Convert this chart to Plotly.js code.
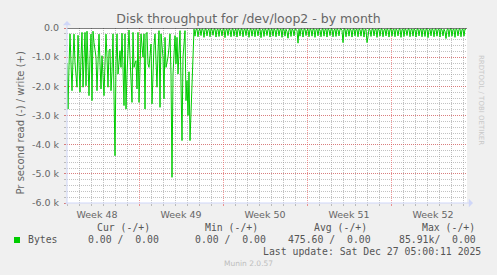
<!DOCTYPE html>
<html><head><meta charset="utf-8">
<script src="https://cdn.plot.ly/plotly-3.0.1.min.js"></script>
<style>html,body{margin:0;padding:0;background:#f0f0f0;}</style>
</head><body><div id="chart" style="width:497px;height:275px;"></div>
<script>
// ---------- data ----------
const startYear = 2025, startMonth = 10, startDay = 24;   // 2025-11-24 00:00 UTC
const stepHours = 2;
// read throughput (negative = read), thousands of bytes per second, one value per 2 h
const readK = [
-1.2,-2.78,-1.3,-0.2,-1.2,-2.15,-1.1,-0.21,-1.2,-1.6,-2.03,-0.25,-1.3,-2.2,-1.0,-0.15,-2.03,-1.0,-0.15,-1.98,
-0.11,-1.2,-2.32,-1.0,-0.21,-2.49,-0.11,-0.5,-0.89,-1.0,-2.15,-1.0,-0.21,-1.2,-2.09,-0.95,-1.5,-2.32,-1.2,-0.21,
-1.0,-2.03,-0.78,-0.72,-2.15,-1.5,-0.2,-1.8,-4.38,-1.2,-0.2,-1.58,-1.0,-0.78,-1.35,-0.18,-1.4,-2.66,-0.2,-2.78,
-1.58,-0.9,-0.07,-1.0,-1.8,-2.55,-0.15,-1.35,-1.2,-1.12,-2.09,-0.15,-2.55,-1.0,-0.2,-0.6,-1.0,-0.2,-2.78,-0.2,
-0.15,-1.23,-1.35,-0.95,-0.55,-2.6,-1.0,-0.6,-0.2,-1.58,-2.03,-0.8,-0.09,-2.72,-0.2,-0.6,-1.0,-2.43,-0.32,-1.35,
-1.2,-1.0,-0.66,-0.2,-1.6,-5.12,-1.58,-0.8,-0.26,-1.23,-0.32,-1.58,-0.7,-0.09,-1.92,-3.86,-1.0,-0.5,-0.09,-2.49,
-1.8,-3.0,-1.5,-3.86,-2.72,-2.0,-0.5,
-0.04,-0.28,-0.05,-0.03,-0.3,-0.06,-0.04,-0.26,-0.03,-0.05,-0.32,-0.04,-0.03,-0.27,-0.06,-0.04,-0.3,-0.03,-0.05,-0.25,-0.04,-0.03,-0.31,-0.05,
-0.04,-0.29,-0.03,-0.06,-0.27,-0.04,-0.03,-0.33,-0.05,-0.04,-0.26,-0.03,-0.05,-0.3,-0.04,-0.03,-0.28,-0.06,-0.04,-0.31,-0.03,-0.05,-0.27,-0.04,
-0.03,-0.3,-0.05,-0.04,-0.26,-0.03,-0.06,-0.32,-0.04,-0.03,-0.28,-0.05,-0.04,-0.3,-0.03,-0.05,-0.27,-0.04,-0.03,-0.33,-0.06,-0.04,-0.29,-0.03,
-0.05,-0.26,-0.04,-0.03,-0.31,-0.05,-0.04,-0.28,-0.03,-0.06,-0.3,-0.04,-0.03,-0.27,-0.05,-0.04,-0.32,-0.03,-0.05,-0.28,-0.04,-0.12,-0.35,-0.05,
-0.03,-0.29,-0.04,-0.06,-0.27,-0.03,-0.05,-0.08,-0.52,-0.04,-0.28,-0.03,-0.05,-0.31,-0.04,-0.03,-0.26,-0.06,-0.04,-0.3,-0.03,-0.05,-0.28,-0.04,
-0.03,-0.32,-0.05,-0.04,-0.27,-0.03,-0.06,-0.3,-0.04,-0.03,-0.28,-0.05,-0.04,-0.31,-0.03,-0.05,-0.26,-0.04,-0.03,-0.3,-0.06,-0.04,-0.29,-0.03,
-0.05,-0.27,-0.04,-0.03,-0.08,-0.5,-0.04,-0.03,-0.3,-0.05,-0.04,-0.28,-0.03,-0.06,-0.31,-0.04,-0.03,-0.27,-0.05,-0.04,-0.3,-0.03,-0.05,-0.28,
-0.04,-0.03,-0.31,-0.05,-0.04,-0.5,-0.3,-0.03,-0.06,-0.29,-0.04,-0.03,-0.27,-0.05,-0.04,-0.32,-0.03,-0.05,-0.28,-0.04,-0.03,-0.3,-0.06,-0.04,
-0.27,-0.03,-0.05,-0.31,-0.04,-0.03,-0.28,-0.05,-0.04,-0.3,-0.03,-0.06,-0.27,-0.04,-0.03,-0.32,-0.05,-0.04,-0.29,-0.03,-0.05,-0.26,-0.04,-0.03,
-0.3,-0.05,-0.04,-0.28,-0.03,-0.06,-0.31,-0.04,-0.03,-0.27,-0.05,-0.04,-0.3,-0.03,-0.05,-0.29,-0.04,-0.03,-0.33,-0.06,-0.04,-0.27,-0.03,-0.05,
-0.3,-0.04,-0.03,-0.28,-0.05,-0.04,-0.31,-0.03,-0.06,-0.27,-0.04,-0.12,-0.36,-0.05,-0.03,-0.3,-0.04,-0.03,-0.28,-0.05,-0.04,-0.32,-0.03,-0.05,
-0.27,-0.04,-0.03,-0.3,-0.05,-0.04,-0.28,-0.03,-0.05
];
const yTickVals = [0, -1000, -2000, -3000, -4000, -5000, -6000];
const yTickText = ['0.0', '-1.0 k', '-2.0 k', '-3.0 k', '-4.0 k', '-5.0 k', '-6.0 k'];
const weekMidDays = [2.5, 9.5, 16.5, 23.5, 30.5];     // days after start (mid-week)
const weekLabels = ['Week 48', 'Week 49', 'Week 50', 'Week 51', 'Week 52'];
const titleText = 'Disk throughput for /dev/loop2 - by month';
const yTitle = 'Pr second read (-) / write (+)';
const seriesName = 'Bytes';
const legendHeaders = ['Cur (-/+)', 'Min (-/+)', 'Avg (-/+)', 'Max (-/+)'];
const legendValues = ['0.00 /  0.00', '0.00 /  0.00', '475.60 /  0.00', '85.91k/  0.00'];
const lastUpdate = 'Last update: Sat Dec 27 05:00:11 2025';
const footer = 'Munin 2.0.57';
const watermark = 'RRDTOOL / TOBI OETIKER';

// ---------- build ----------
const HOUR = 3600000, DAY = 86400000;
const t0 = Date.UTC(startYear, startMonth, startDay);
const xs = readK.map((v, i) => t0 + i * stepHours * HOUR);
const ys = readK.map(v => v * 1000);
const tEnd = t0 + 400 * stepHours * HOUR;
const weekMid = weekMidDays.map(d => t0 + d * DAY);

const W = 497, H = 275, L = 67, R = 30, T = 28, B = 72;
const pw = W - L - R, ph = H - T - B;
const px2x = p => (p - L) / pw;
const py2y = p => (H - B - p) / ph;
const nb = s => s.replace(/ /g, '\u00a0');

const sans = 'DejaVu Sans', mono = 'DejaVu Sans Mono';
const fontCol = '#666666';
const gridGray = 'rgba(143,143,143,0.55)';
const gridRed = 'rgba(232,80,80,0.6)';
const axisCol = '#CFD6F8';

const traces = [{
  x: xs, y: ys, type: 'scatter', mode: 'lines', name: seriesName,
  line: {color: '#00cc00', width: 1}, hoverinfo: 'skip'
}, {
  x: [], y: [], xaxis: 'x2', type: 'scatter', mode: 'lines', showlegend: false
}];

const ann = [];
ann.push({xref:'paper', yref:'paper', x: px2x(12), y: py2y(123), text: yTitle, textangle: -90,
  showarrow:false, font:{family:sans, size:10, color:fontCol}});
ann.push({xref:'paper', yref:'paper', x: px2x(487), y: py2y(53), text: watermark, textangle: 90,
  showarrow:false, font:{family:sans, size:7, color:'#c8c8c8'}});
const hdrRight = [150.7, 259.3, 367.7, 476];
const valRight = [160.3, 266.7, 371.7, 476.7];
legendHeaders.forEach((h, i) => ann.push({xref:'paper', yref:'paper', x: px2x(hdrRight[i]), y: py2y(227.3),
  xanchor:'right', yanchor:'middle', text: nb(h), showarrow:false, borderpad:0,
  font:{family:mono, size:9.8, color:'#555'}}));
legendValues.forEach((h, i) => ann.push({xref:'paper', yref:'paper', x: px2x(valRight[i]), y: py2y(239.7),
  xanchor:'right', yanchor:'middle', text: nb(h), showarrow:false, borderpad:0,
  font:{family:mono, size:9.8, color:'#555'}}));
ann.push({xref:'paper', yref:'paper', x: px2x(26.7), y: py2y(239.7), xanchor:'left', yanchor:'middle',
  text: seriesName, showarrow:false, borderpad:0, font:{family:mono, size:9.8, color:'#555'}});
ann.push({xref:'paper', yref:'paper', x: px2x(482.3), y: py2y(251.7), xanchor:'right', yanchor:'middle',
  text: nb(lastUpdate), showarrow:false, borderpad:0, font:{family:mono, size:9.8, color:'#555'}});
ann.push({xref:'paper', yref:'paper', x: px2x(248), y: py2y(263.3), xanchor:'center', yanchor:'middle',
  text: footer, showarrow:false, borderpad:0, font:{family:sans, size:7.5, color:'#bdbdbd'}});
// axis arrows
ann.push({xref:'paper', yref:'paper', x: 0, y: py2y(21), ax: 0, ay: 185, text:'', showarrow:true,
  arrowhead:1, arrowsize:1.4, arrowwidth:1, arrowcolor:axisCol, standoff:0});
ann.push({xref:'paper', yref:'paper', x: px2x(473), y: 0, ax: -409, ay: 0, text:'', showarrow:true,
  arrowhead:1, arrowsize:1.4, arrowwidth:1, arrowcolor:axisCol, standoff:0});

const layout = {
  width: W, height: H,
  margin: {l: L, r: R, t: T, b: B, pad: 0},
  paper_bgcolor: '#f0f0f0', plot_bgcolor: '#ffffff',
  showlegend: false,
  title: {text: titleText, xref:'container', x: 0.5, xanchor:'center', y: 1 - 19/H, yanchor:'middle',
    font: {family: sans, size: 12.5, color: fontCol}},
  xaxis: {
    type: 'date', range: [t0, tEnd], tick0: Date.UTC(2025, 10, 23), dtick: 7 * DAY,
    showticklabels: false, ticks: 'outside', ticklen: 2, tickcolor: gridRed,
    showgrid: true, gridcolor: gridRed, griddash: '1px,1px', gridwidth: 1,
    minor: {dtick: DAY, tick0: t0, showgrid: true, gridcolor: gridGray, griddash: '1px,1px',
      ticks: 'outside', ticklen: 2, tickcolor: gridGray},
    showline: false, zeroline: false, fixedrange: true
  },
  xaxis2: {
    type: 'date', overlaying: 'x', anchor: 'y', side: 'bottom', range: [t0, tEnd],
    tickmode: 'array', tickvals: weekMid, ticktext: weekLabels, ticks: '', showgrid: false,
    showline: false, zeroline: false, ticklabelstandoff: 4,
    tickfont: {family: sans, size: 9.5, color: fontCol}
  },
  yaxis: {
    range: [-6000, 0], tickmode: 'array', tickvals: yTickVals, ticktext: yTickText,
    ticks: 'outside', ticklen: 2, tickcolor: gridRed,
    showgrid: true, gridcolor: gridRed, griddash: '1px,1px', gridwidth: 1,
    minor: {tickmode: 'linear', tick0: 0, dtick: 200, showgrid: true, gridcolor: gridGray, griddash: '1px,1px',
      ticks: 'outside', ticklen: 2, tickcolor: gridGray},
    showline: false, zeroline: false, ticklabelstandoff: 3,
    tickfont: {family: sans, size: 9.5, color: fontCol}
  },
  shapes: [
    {type:'line', xref:'paper', yref:'y', x0:0, x1:1, y0:0, y1:0, layer:'above', line:{color:'#000', width:1}},
    {type:'rect', xref:'paper', yref:'paper', x0:px2x(14), x1:px2x(20), y0:py2y(243), y1:py2y(237),
      fillcolor:'#00cc00', line:{width:0}}
  ],
  annotations: ann
};
Plotly.newPlot('chart', traces, layout, {displayModeBar: false, staticPlot: true});
</script></body></html>
